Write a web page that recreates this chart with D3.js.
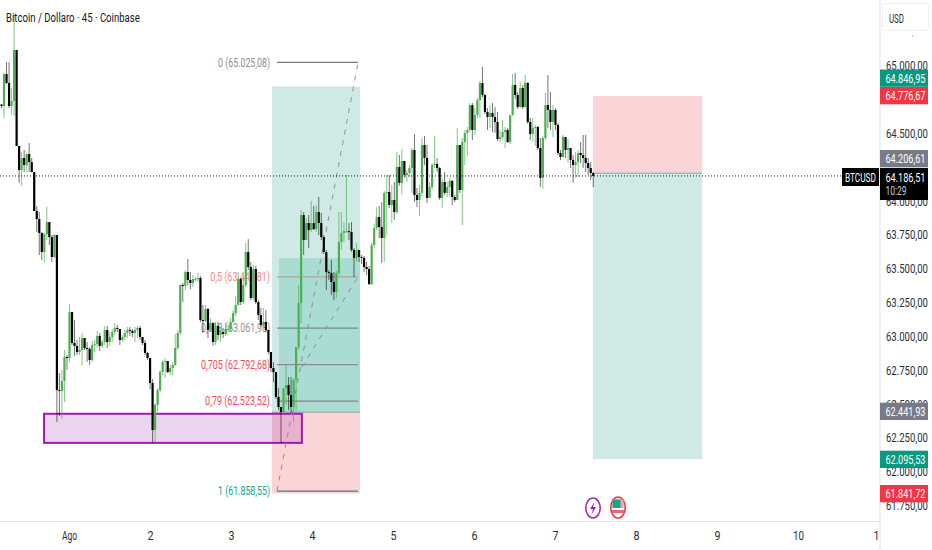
<!DOCTYPE html>
<html><head><meta charset="utf-8"><title>BTCUSD</title>
<style>html,body{margin:0;padding:0;background:#fff;overflow:hidden}svg{display:block;font-family:Roboto,"Liberation Sans",sans-serif}</style>
<script src="https://cdn.jsdelivr.net/npm/d3@7/dist/d3.min.js"></script>
</head><body><svg id="c" width="932" height="550"></svg>
<script>
const firstOpen = 64714;
const closes = [64703,64939,64873,64703,64740,65117,64408,64230,64319,64267,64348,64289,64215,63928,63868,63765,63625,63757,63846,63735,63588,63750,62605,62598,62672,62849,62842,63181,62953,62931,62886,62901,62990,62916,62909,62827,62938,62945,63005,62931,62960,63049,62960,62997,63034,63064,63056,62975,62997,63027,63049,63042,63027,63049,63064,62997,62953,62879,62842,62657,62310,62495,62605,62738,62812,62820,62738,62768,62790,62916,63027,63381,63374,63477,63418,63396,63425,63425,63433,63122,63115,63204,63049,63100,62960,63079,63012,63034,63020,63056,63056,63108,63174,63233,63425,63255,63381,63625,63514,63285,63499,63255,63159,63086,63108,63049,62886,62768,62738,62554,62480,62443,62620,62642,62569,62480,62679,62923,63248,63898,63713,63839,63787,63839,63794,63920,63839,63735,63625,63477,63470,63403,63329,63470,63699,63765,63779,63779,63772,63640,63581,63640,63588,63581,63514,63499,63388,63676,63802,63883,63809,63728,64061,64068,63972,64009,63920,64253,64135,64297,64194,64208,64245,64378,64046,64009,64061,64415,64319,64024,64105,64267,64275,64245,64024,64142,64061,64105,64150,64031,64009,64415,64083,64437,64504,64526,64710,64526,64637,64747,64873,64784,64659,64622,64652,64622,64585,64459,64474,64511,64526,64437,64637,64858,64784,64696,64836,64696,64873,64585,64496,64541,64548,64393,64172,64467,64710,64674,64585,64674,64563,64356,64326,64474,64378,64393,64304,64267,64289,64356,64341,64319,64282,64245,64208,64186.51];
const highs = [64717,64947,65028,65028,64836,65383,65117,64408,64363,64378,64356,64430,64319,64215,63965,63920,63772,63765,63957,63846,63750,63757,63750,62731,62753,62901,62864,63240,63181,63122,62975,62997,63027,62990,62960,62923,62968,62975,63042,63027,62975,63079,63079,63034,63056,63100,63086,63056,63012,63049,63071,63071,63056,63071,63079,63079,62997,62975,62886,62842,62687,62510,62620,62753,62827,62842,62820,62790,62812,63020,63049,63388,63396,63492,63573,63477,63455,63440,63470,63448,63233,63233,63211,63137,63108,63108,63108,63064,63064,63100,63086,63137,63196,63300,63477,63433,63448,63691,63720,63551,63529,63522,63270,63211,63211,63196,62990,62886,62812,62738,62620,62480,62620,62790,62701,62701,62694,62923,63381,63935,63920,63876,63898,64002,63965,63972,64031,63913,63750,63640,63492,63566,63477,63485,63920,63920,63846,64194,63839,63846,63654,63691,63640,63603,63595,63551,63522,63691,63831,63957,63965,63994,64076,64194,64194,64120,64142,64363,64341,64385,64297,64230,64267,64393,64496,64098,64120,64467,64481,64415,64142,64282,64481,64319,64253,64172,64215,64142,64172,64157,64046,64540,64415,64467,64526,64548,64725,64725,64688,64762,64888,64991,64791,64688,64710,64725,64696,64659,64526,64600,64548,64541,64637,64939,64947,64806,64880,64858,64932,64880,64615,64615,64563,64556,64467,64481,64799,64932,64806,64710,64688,64578,64378,64489,64474,64459,64393,64341,64363,64378,64437,64489,64489,64319,64289,64215];
const lows = [64688,64615,64865,64688,64637,64630,64408,64135,64113,64215,64215,64215,64215,63928,63772,63603,63566,63551,63713,63676,63551,63581,62369,62414,62392,62517,62753,62812,62938,62857,62864,62864,62790,62901,62812,62790,62812,62886,62916,62894,62916,62938,62916,62931,62960,63012,63034,62938,62960,62975,62990,63005,62997,62960,62990,62975,62938,62864,62827,62612,62221,62221,62443,62590,62716,62694,62731,62716,62716,62783,62901,63012,63255,63344,63381,63351,63366,63411,63403,63108,63027,63108,62990,63034,62931,62938,62975,62960,62990,63005,63034,63034,63100,63152,63233,63233,63240,63366,63492,63270,63270,63240,63122,63071,63064,63034,62871,62738,62664,62539,62458,62214,62443,62495,62458,62436,62369,62458,62901,63100,63603,63713,63654,63772,63787,63772,63750,63713,63610,63344,63418,63307,63270,63285,63448,63640,63699,63765,63713,63625,63440,63551,63551,63536,63477,63455,63381,63381,63654,63787,63728,63544,63551,63750,63950,63839,63861,63906,64113,64046,64172,64142,64179,64061,63994,63957,63891,64039,64267,63987,64024,64083,64245,64215,64009,63950,64046,64031,64039,63972,63994,64009,64061,63824,64267,64334,64511,64452,64489,64615,64615,64769,64644,64526,64541,64511,64504,64445,64437,64452,64393,64430,64422,64630,64754,64681,64688,64681,64688,64570,64452,64437,64408,64378,64105,64091,64452,64541,64526,64474,64526,64341,64304,64341,64319,64282,64245,64135,64172,64179,64282,64245,64215,64194,64157,64105];

const priceTicks = [65000,64500,64000,63750,63500,63250,63000,62750,62500,62250,62000,61750];
const dayTickBars = [26.8,59,91.1,123.3,155.5,187.6,219.8,252,284.2,316.3,347.3];
const dayLabels = ["Ago","2","3","4","5","6","7","8","9","10","1"];

const fibPrices = [65025.08,63441.81,63061.98,62792.68,62523.52,61858.55];
const fibNames = ["0","0,5","0,618","0,705","0,79","1"];
const fibTexts = ["65.025,08","63.441,81","63.061,98","62.792,68","62.523,52","61.858,55"];
const fibColors = ["#8a8d96","#f9897f","#8f9198","#f2495a","#f2495a","#1ba38a"];
const fibLineColors = ["#77797f","#b5a78e","#6f8f88","#8d8a90","#8d7f8c","#4f7d70"];
const fibWidths = [52,60,69,69,65,52];

const longEntry = 62441.93, longTarget = 64846.95, longStop = 61841.72, longInnerTop = 63580;
const shortEntry = 64206.61, shortTop = 64776.67, shortTarget = 62095.53;
const zonePrices = [62430, 62215];
const lastPrice = 64186.51;

const svg = d3.select("#c");
const x = d3.scaleLinear().domain([0,348]).range([1.5,1.5+2.518*348]);
const y = d3.scaleLinear().domain([64500,61750]).range([133.5,133.5+2750*0.1354]);
const fmt = v => d3.format(",.2f")(v).replace(/,/g,"#").replace(".",",").replace(/#/g,".");

// squeeze a text horizontally to the reference's condensed width
function squeeze(sel, width){
  sel.each(function(d,i){
    const t=d3.select(this), ax=+t.attr("x")||0, ay=+t.attr("y")||0;
    const w=typeof width==="function"?width(d,i):width;
    const s=w/this.getComputedTextLength();
    t.attr("x",0).attr("y",0).attr("transform",`translate(${ax},${ay}) scale(${s},1)`);
  });
  return sel;
}

const boxA = [107.4, 142.4], innerA = 110.2, fibA = [109.4, 141.6], boxB = [234.9, 278.2], zoneA = [16.9, 119.3];

const rect = (g,x0,x1,p0,p1,fill) => g.append("rect").attr("x",x(x0)).attr("width",x(x1)-x(x0)).attr("y",y(p0)).attr("height",y(p1)-y(p0)).attr("fill",fill);
const ann = svg.append("g");
rect(ann,boxA[0],boxA[1],longTarget,longEntry,"#cfeae5");
rect(ann,innerA,boxA[1],longInnerTop,longEntry,"#a9dcd2");
rect(ann,boxA[0],boxA[1],longEntry,longStop,"#fbd4d8");
ann.append("line").attr("x1",x(boxA[0])).attr("x2",x(boxA[1])).attr("y1",y(longEntry)).attr("y2",y(longEntry)).attr("stroke","#8fa5a3").attr("stroke-width",1);
rect(ann,boxB[0],boxB[1],shortTop,shortEntry,"#fbd4d8");
rect(ann,boxB[0],boxB[1],shortEntry,shortTarget,"#cfeae5");
ann.append("line").attr("x1",x(boxB[0])).attr("x2",x(boxB[1])).attr("y1",y(shortEntry)).attr("y2",y(shortEntry)).attr("stroke","#7fa8a0").attr("stroke-width",1);

// purple zone
ann.append("rect").attr("x",x(zoneA[0])).attr("width",x(zoneA[1])-x(zoneA[0])).attr("y",y(zonePrices[0])).attr("height",y(zonePrices[1])-y(zonePrices[0]))
  .attr("fill","rgba(156,39,176,0.2)").attr("stroke","#9c1fa8").attr("stroke-width",2);

// fib
const fg = svg.append("g");
fg.selectAll("line.f").data(fibPrices).join("line").attr("class","f")
  .attr("x1",x(fibA[0])).attr("x2",x(fibA[1])).attr("y1",d=>y(d)).attr("y2",d=>y(d))
  .attr("stroke",(d,i)=>fibLineColors[i]).attr("stroke-width",1.2);
squeeze(fg.selectAll("text").data(fibPrices).join("text")
  .attr("x",270).attr("y",d=>y(d)+4.2).attr("text-anchor","end").attr("font-size",12.5)
  .attr("fill",(d,i)=>fibColors[i])
  .text((d,i)=>`${fibNames[i]} (${fibTexts[i]})`),(d,i)=>fibWidths[i]);
// trend dashed lines
const dash = [[fibA[0],fibPrices[5],fibA[1],fibPrices[0]],[119.3,62775,fibA[1],fibPrices[1]]];
fg.selectAll("line.d").data(dash).join("line").attr("class","d")
  .attr("x1",d=>x(d[0])).attr("y1",d=>y(d[1])).attr("x2",d=>x(d[2])).attr("y2",d=>y(d[3]))
  .attr("stroke","#8f9094").attr("stroke-width",1).attr("stroke-dasharray","5 6");

// candles
const opens = closes.map((c,i)=> i? closes[i-1] : firstOpen);
const bars = closes.map((c,i)=>({i,o:opens[i],h:highs[i],l:lows[i],c}));
const cg = svg.append("g");
cg.selectAll("line").data(bars).join("line")
  .attr("x1",d=>x(d.i)).attr("x2",d=>x(d.i)).attr("y1",d=>y(d.h)).attr("y2",d=>y(d.l))
  .attr("stroke",d=>d.c>=d.o?"rgba(76,175,80,0.7)":"rgba(0,0,0,0.55)").attr("stroke-width",1);
cg.selectAll("rect").data(bars).join("rect")
  .attr("x",d=>x(d.i)-1.1).attr("width",2.2)
  .attr("y",d=>y(Math.max(d.o,d.c))).attr("height",d=>Math.max(1,Math.abs(y(d.o)-y(d.c))))
  .attr("fill",d=>d.c>=d.o?"#4caf50":"#000");

// last price dotted line
svg.append("line").attr("x1",0).attr("x2",843).attr("y1",y(lastPrice)).attr("y2",y(lastPrice))
  .attr("stroke","#131722").attr("stroke-width",1).attr("stroke-dasharray","1 2");

// frame
svg.append("line").attr("x1",0).attr("x2",880).attr("y1",521.5).attr("y2",521.5).attr("stroke","#e0e3eb");
svg.append("line").attr("x1",880).attr("x2",880).attr("y1",0).attr("y2",550).attr("stroke","#e0e3eb");

// axes
const yAxis = d3.axisRight(y).tickValues(priceTicks).tickSize(0).tickPadding(6).tickFormat(fmt);
const gy = svg.append("g").attr("transform","translate(880,0)").call(yAxis);
gy.select(".domain").remove();
gy.selectAll("text").attr("font-size",13.5).attr("font-family","Roboto").attr("fill","#2a2e39").attr("dy",null).attr("y",3.8);
squeeze(gy.selectAll("text"),42);
const xAxis = d3.axisBottom(x).tickValues(dayTickBars).tickSize(0).tickPadding(8).tickFormat((d,i)=>dayLabels[i]);
const gx = svg.append("g").attr("transform","translate(0,521)").call(xAxis);
gx.select(".domain").remove();
gx.selectAll("text").attr("font-size",12.5).attr("font-family","Roboto").attr("fill","#2a2e39").attr("dy",null).attr("y",18.5);
squeeze(gx.selectAll("text"),(d,i)=>({0:15,9:11})[i]||6);

// right side tags
const tagPrices = [64846.95,64776.67,64206.61,62441.93,62095.53,61841.72];
const tagColors = ["#089981","#f23645","#787b86","#787b86","#089981","#f23645"];
const tagY = [69.5,87,150,402.7,450.7,485];
const tg = svg.append("g");
tg.selectAll("rect").data(tagPrices).join("rect")
  .attr("x",880).attr("width",48).attr("y",(d,i)=>tagY[i]).attr("height",17.3).attr("fill",(d,i)=>tagColors[i]);
squeeze(tg.selectAll("text").data(tagPrices).join("text")
  .attr("x",885.5).attr("y",(d,i)=>tagY[i]+13.2).attr("font-size",13.5).attr("fill","#fff").text(fmt),40);
// last price tag
svg.append("rect").attr("x",880).attr("width",48).attr("y",168).attr("height",32).attr("fill","#000");
const lastText = svg.append("g");
const tx = (x0,y0,size,fill,w,s,parent=svg)=>squeeze(parent.append("text").attr("x",x0).attr("y",y0).attr("font-size",size).attr("fill",fill).text(s),w);
tx(885.5,181.5,13.5,"#fff",40,fmt(lastPrice));
tx(885.5,194.5,13,"#c9cbd1",21,"10:29");
svg.append("rect").attr("x",842).attr("width",37).attr("y",168).attr("height",18).attr("fill","#000");
tx(845,181.5,13.5,"#fff",31,"BTCUSD");

// USD button
svg.append("rect").attr("x",882.5).attr("y",3.5).attr("width",46).attr("height",27).attr("rx",3).attr("fill","#fff").attr("stroke","#eceef2");
tx(889,22.5,13,"#2a2e39",15,"USD");
svg.append("line").attr("x1",912.5).attr("x2",913.5).attr("y1",36.5).attr("y2",35).attr("stroke","#9a9ca3");

// title
tx(6,21.5,13.5,"#131722",134,"Bitcoin / Dollaro · 45 · Coinbase");

// event icons
const ic = svg.append("g");
ic.append("ellipse").attr("cx",593).attr("cy",508).attr("rx",7.2).attr("ry",10).attr("fill","#fff").attr("stroke","#a32cb5").attr("stroke-width",1.6);
ic.append("path").attr("d","M594.5,502 L590,509 L593,509 L591.5,514.5 L596,507 L593,507 Z").attr("fill","#8e24aa");
ic.append("ellipse").attr("cx",618).attr("cy",507.5).attr("rx",7.2).attr("ry",10.5).attr("fill","#fff").attr("stroke","#f23645").attr("stroke-width",1.6);
ic.append("rect").attr("x",612.5).attr("y",499.5).attr("width",11).attr("height",8.5).attr("fill","#f2a0a6");
ic.append("rect").attr("x",612.5).attr("y",499.5).attr("width",8).attr("height",8.5).attr("fill","#1ba38a");
ic.append("rect").attr("x",612).attr("y",510).attr("width",12).attr("height",3).attr("fill","#f2646f");
</script></body></html>
